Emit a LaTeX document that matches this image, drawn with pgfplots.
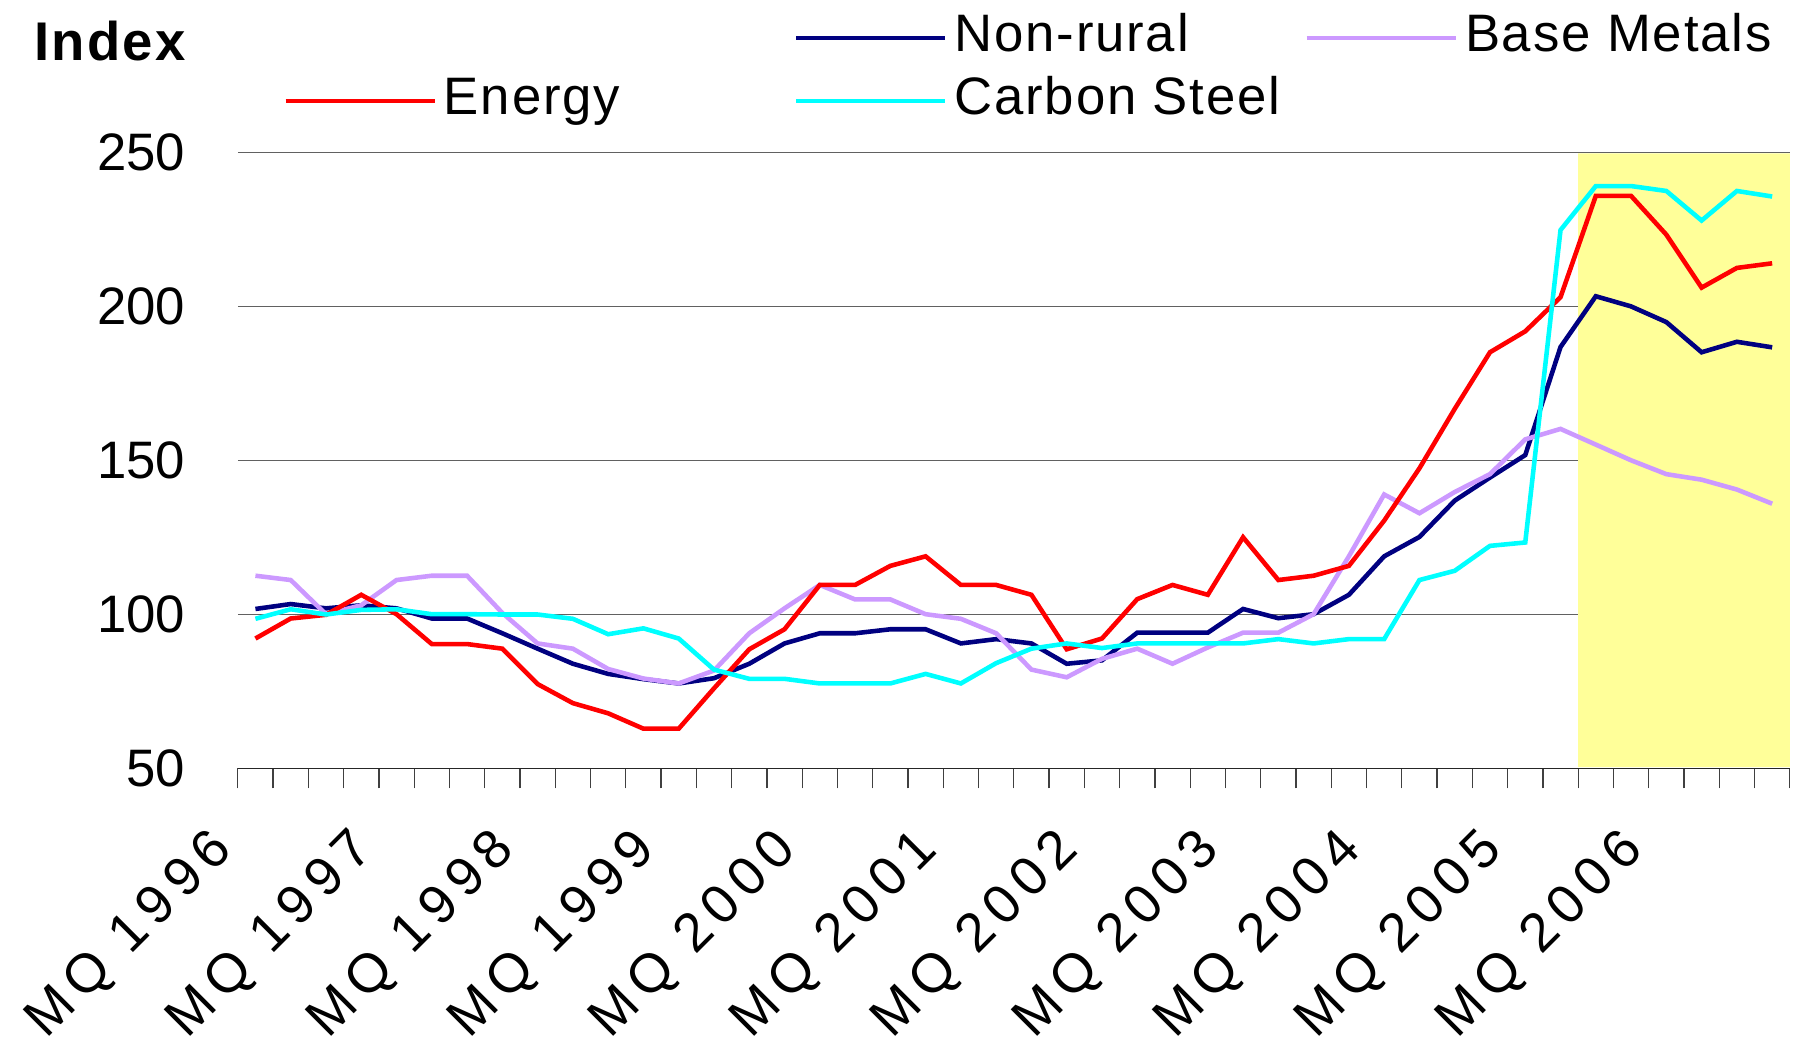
\documentclass[border=0pt]{standalone}
\usepackage{fontspec}
\setmainfont{Liberation Sans}
\usepackage{pgfplots}
\usepackage{pgfplotstable}
\pgfplotsset{compat=1.18}
\definecolor{nonrural}{HTML}{000080}
\definecolor{basemet}{HTML}{CC99FF}
\definecolor{energy}{HTML}{FF0000}
\definecolor{carbon}{HTML}{00FFFF}
\definecolor{fcst}{HTML}{FFFF99}
\pgfplotsset{
  mylegline/.style={legend image code/.code={\draw[##1] (0mm,0.1mm) -- (14.9mm,0.1mm);}},
}
% x = quarter index + 0.5 (MQ 1996 = 0.5 ... DQ 2006 = 43.5)
\pgfplotstableread{
x    N      B      E      C
0.5  101.8  112.6  92.2   98.6
1.5  103.4  111.2  98.7   101.7
2.5  102.0  100.1  99.9   100.0
3.5  103.0  103.0  106.4  101.5
4.5  102.0  111.2  100.1  101.7
5.5  98.7   112.6  90.4   100.1
6.5  98.7   112.6  90.4   100.1
7.5  93.9   100.5  88.9   100.0
8.5  88.9   90.6   77.4   100.0
9.5  84.0   88.9   71.2   98.6
10.5 80.7   82.3   67.9   93.6
11.5 79.0   79.2   62.9   95.5
12.5 77.6   77.6   62.9   92.2
13.5 79.3   81.8   76.0   82.1
14.5 84.0   93.9   88.7   79.1
15.5 90.6   102.0  95.2   79.1
16.5 93.9   109.6  109.6  77.6
17.5 93.9   104.9  109.6  77.6
18.5 95.2   104.9  115.8  77.6
19.5 95.2   100.1  118.9  80.7
20.5 90.6   98.6   109.6  77.6
21.5 92.0   93.9   109.6  84.2
22.5 90.6   82.1   106.4  88.9
23.5 84.0   79.6   88.7   90.6
24.5 85.1   85.6   92.2   89.1
25.5 94.1   88.9   105.0  90.6
26.5 94.1   84.0   109.6  90.6
27.5 94.1   89.3   106.4  90.6
28.5 101.8  94.1   125.1  90.6
29.5 98.8   94.1   111.2  92.0
30.5 100.1  100.1  112.6  90.6
31.5 106.4  118.9  115.8  92.0
32.5 118.9  139.0  130.5  92.0
33.5 125.2  132.9  147.5  111.2
34.5 137.0  139.8  166.8  114.2
35.5 144.5  145.6  185.2  122.3
36.5 151.8  156.9  192.0  123.4
37.5 186.9  160.3  203.1  224.9
38.5 203.4  155.2  236.0  239.2
39.5 200.1  150.1  236.0  239.2
40.5 195.0  145.6  223.4  237.6
41.5 185.2  143.8  206.2  228.0
42.5 188.6  140.6  212.6  237.6
43.5 186.8  136.0  214.1  235.8
}\datatable
\begin{document}
\begin{tikzpicture}
\begin{axis}[
  name=ax,
  scale only axis, width=155.2mm, height=61.56mm,
  xmin=0, xmax=44, ymin=50, ymax=250,
  axis lines*=left,
  y axis line style={draw=none},
  x axis line style={black!85, line width=0.45pt},
  xtick={0.5,4.5,8.5,12.5,16.5,20.5,24.5,28.5,32.5,36.5,40.5},
  xticklabels={MQ 1996,MQ 1997,MQ 1998,MQ 1999,MQ 2000,MQ 2001,MQ 2002,MQ 2003,MQ 2004,MQ 2005,MQ 2006},
  major tick length=0pt,
  minor xtick={0,1,...,44},
  minor tick length=2mm,
  xtick align=outside,
  minor x tick style={black!75, line width=0.35pt},
  ytick={50,100,150,200,250},
  ytick style={draw=none},
  ymajorgrids,
  grid style={black!62, line width=0.35pt},
  tick label style={font=\fontsize{15}{18}\selectfont},
  /pgf/number format/assume math mode=true,
  yticklabel style={inner sep=0pt, xshift=-5.2mm},
  xticklabel style={inner sep=0pt, xshift=-3.1mm, yshift=-7.35mm, rotate=45, anchor=east,
    font=\fontsize{15.5}{18}\selectfont\addfontfeature{LetterSpace=15}},
  mylegline,
  legend style={draw=none, fill=none, inner sep=0pt, outer sep=0pt,
    at={(0,1)}, anchor=south west, xshift=4.55mm, yshift=2.6mm,
    row sep=1.3mm,
    font=\fontsize{15}{18}\selectfont\addfontfeature{LetterSpace=3.5},
    nodes={inner sep=0pt, text height=3.8mm, text depth=1.2mm},
    /tikz/every odd column/.append style={column sep=0.7mm},
    /tikz/every even column/.append style={column sep=1.0mm}},
  legend columns=3,
  legend cell align=left,
]
\addplot[fill=fcst, draw=none, forget plot] coordinates {(38,50.4) (38,249.8) (44,249.8) (44,50.4) (38,50.4)};
\addlegendimage{empty legend}
\addlegendentry{}
\addplot[nonrural, line width=1.3pt] table[x=x, y=N] {\datatable};
\addlegendentry{\makebox[34mm][l]{Non-rural}}
\addplot[basemet, line width=1.3pt] table[x=x, y=B] {\datatable};
\addlegendentry{\makebox[34mm][l]{Base Metals}}
\addplot[energy, line width=1.3pt] table[x=x, y=E] {\datatable};
\addlegendentry{\makebox[34mm][l]{Energy}}
\addplot[carbon, line width=1.3pt] table[x=x, y=C] {\datatable};
\addlegendentry{\makebox[34mm][l]{Carbon Steel}}
\end{axis}
\node[anchor=base west, inner sep=0pt, font=\bfseries\fontsize{15.5}{18}\selectfont\addfontfeature{LetterSpace=4}, xshift=-20.4mm, yshift=9.25mm] at (ax.north west) {Index};
\pgfresetboundingbox
\path[use as bounding box] (-23.78mm,-27.66mm) rectangle (156.32mm,76.84mm);
\end{tikzpicture}
\end{document}
